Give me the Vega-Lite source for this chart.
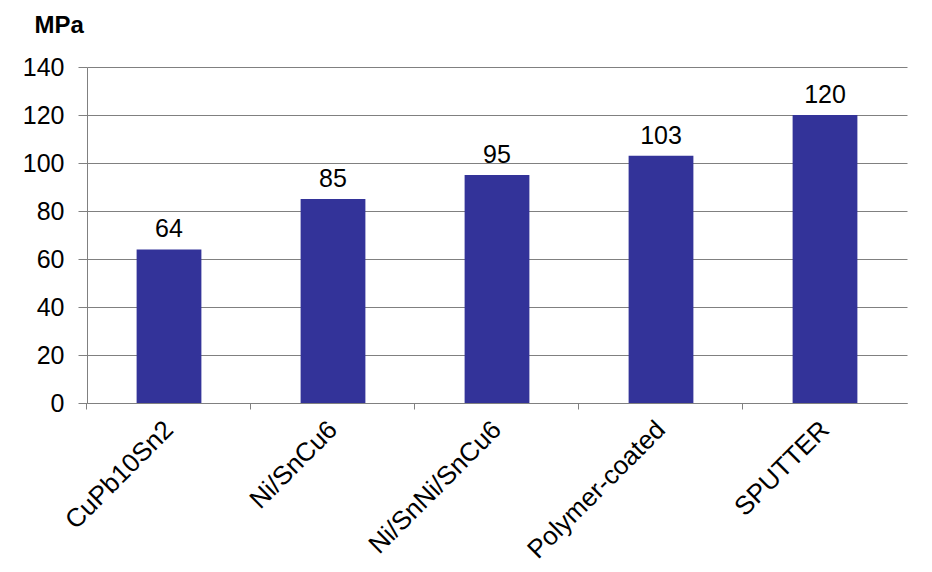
{
  "$schema": "https://vega.github.io/schema/vega-lite/v6.json",
  "width": 820,
  "height": 336,
  "autosize": {"type": "none"},
  "padding": {"left": 87, "top": 67, "right": 25, "bottom": 169},
  "background": "white",
  "config": {
    "view": {"stroke": null},
    "font": "Liberation Sans",
    "axis": {"labelFont": "Liberation Sans", "titleFont": "Liberation Sans"}
  },
  "data": {
    "values": [
      {"material": "CuPb10Sn2", "mpa": 64},
      {"material": "Ni/SnCu6", "mpa": 85},
      {"material": "Ni/SnNi/SnCu6", "mpa": 95},
      {"material": "Polymer-coated", "mpa": 103},
      {"material": "SPUTTER", "mpa": 120}
    ]
  },
  "resolve": {"axis": {"x": "independent"}},
  "layer": [
    {
      "mark": {"type": "bar", "color": "#333399"},
      "encoding": {
        "x": {
          "field": "material",
          "type": "nominal",
          "sort": null,
          "scale": {"paddingInner": 0.605, "paddingOuter": 0.3025},
          "axis": {
            "orient": "bottom",
            "title": null,
            "labelAngle": -45,
            "labelFontSize": 26,
            "labelColor": "#000000",
            "labelPadding": 13,
            "labelOffset": -9,
            "ticks": false,
            "domainColor": "#808080",
            "labelLimit": 400
          }
        },
        "y": {
          "field": "mpa",
          "type": "quantitative",
          "scale": {"domain": [0, 140], "nice": false},
          "axis": {
            "values": [0, 20, 40, 60, 80, 100, 120, 140],
            "title": "MPa",
            "titleAngle": 0,
            "titleFontSize": 24,
            "titleFontWeight": "bold",
            "titleColor": "#000000",
            "titleAlign": "left",
            "titleBaseline": "middle",
            "titleX": -53,
            "titleY": -42,
            "labelFontSize": 25,
            "labelColor": "#000000",
            "labelPadding": 14,
            "tickSize": 9,
            "tickColor": "#808080",
            "domainColor": "#808080",
            "grid": true,
            "gridColor": "#808080"
          }
        }
      }
    },
    {
      "mark": {"type": "text", "baseline": "alphabetic", "dy": -12, "fontSize": 25, "color": "#000000"},
      "encoding": {
        "x": {
          "field": "material",
          "type": "nominal",
          "sort": null,
          "axis": {
            "orient": "bottom",
            "title": null,
            "labels": false,
            "domain": false,
            "grid": false,
            "ticks": true,
            "bandPosition": -0.766,
            "tickSize": 6,
            "tickColor": "#808080"
          }
        },
        "y": {"field": "mpa", "type": "quantitative"},
        "text": {"field": "mpa", "type": "quantitative"}
      }
    }
  ]
}
